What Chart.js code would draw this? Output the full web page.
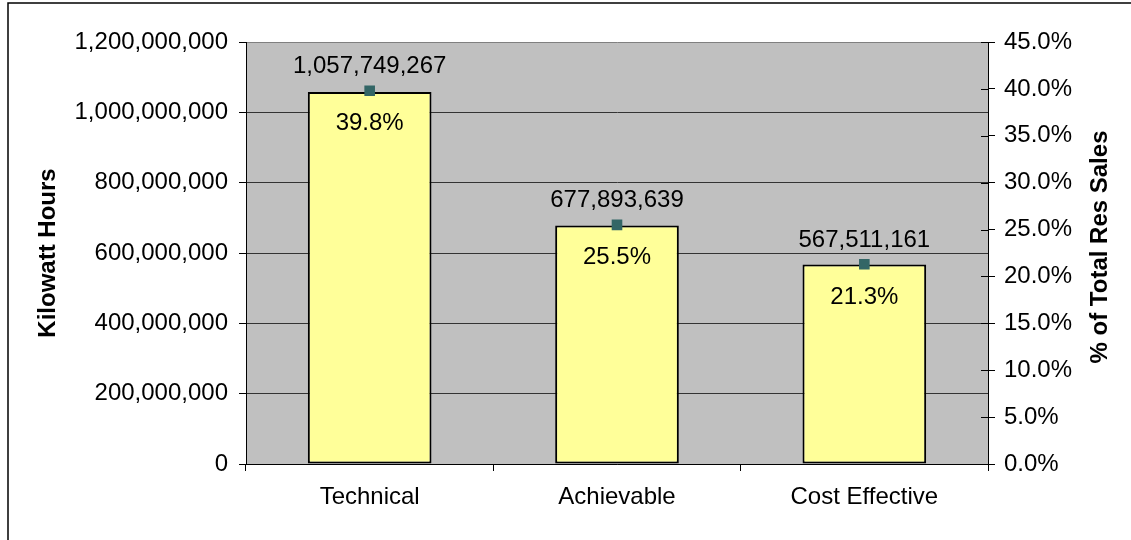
<!DOCTYPE html>
<html>
<head>
<meta charset="utf-8">
<script src="https://cdn.jsdelivr.net/npm/chart.js@4"></script>
<style>
  html, body { margin: 0; padding: 0; background: #ffffff; }
  #wrap { width: 1131px; height: 540px; position: relative; }
</style>
</head>
<body>
<div id="wrap"><canvas id="chart" width="1131" height="540"></canvas></div>
<script>
// Chart values
const categories = ['Technical', 'Achievable', 'Cost Effective'];
const kwhValues = [1057749267, 677893639, 567511161];
const pctValues = [39.8, 25.5, 21.3];

// Axis ranges
const kwhMax = 1200000000;
const kwhStep = 200000000;
const pctMax = 45;
const pctStep = 5;

const fontFamily = '"Liberation Sans", Arial, sans-serif';
const fontSize = 24;

// Grey plot background plus the outer frame of the chart
const backgroundPlugin = {
    id: 'background',
    beforeDraw(chart) {
        const { ctx, chartArea } = chart;
        ctx.save();
        ctx.fillStyle = '#C0C0C0';
        ctx.fillRect(chartArea.left, chartArea.top, chartArea.right - chartArea.left, chartArea.bottom - chartArea.top);
        // frame (only top and left edges fall inside the picture)
        ctx.strokeStyle = '#000000';
        ctx.lineWidth = 1.5;
        ctx.beginPath();
        ctx.moveTo(8, 540);
        ctx.lineTo(8, 3);
        ctx.lineTo(1131, 3);
        ctx.stroke();
        ctx.restore();
    }
};

// Labels above and below the markers, axis titles and inward ticks on the right axis
const labelsPlugin = {
    id: 'labels',
    afterDraw(chart) {
        const { ctx, chartArea } = chart;
        const meta = chart.getDatasetMeta(1);
        ctx.save();
        ctx.fillStyle = '#000000';
        ctx.textAlign = 'center';
        ctx.textBaseline = 'middle';
        ctx.font = fontSize + 'px ' + fontFamily;
        meta.data.forEach((pt, i) => {
            ctx.fillText(kwhValues[i].toLocaleString('en-US'), pt.x, pt.y - 24);
            ctx.fillText(pctValues[i].toFixed(1) + '%', pt.x, pt.y + 33);
        });

        // axis titles
        ctx.font = 'bold ' + fontSize + 'px ' + fontFamily;
        const midY = (chartArea.top + chartArea.bottom) / 2;
        ctx.translate(48, midY);
        ctx.rotate(-Math.PI / 2);
        ctx.fillText('Kilowatt Hours', 0, 0);
        ctx.setTransform(1, 0, 0, 1, 0, 0);
        ctx.translate(1100, midY - 6);
        ctx.rotate(-Math.PI / 2);
        ctx.fillText('% of Total Res Sales', 0, 0);
        ctx.setTransform(1, 0, 0, 1, 0, 0);

        // right axis ticks cross the axis line
        const y1 = chart.scales.y1;
        ctx.strokeStyle = '#000000';
        ctx.lineWidth = 1;
        ctx.beginPath();
        y1.ticks.forEach(t => {
            const py = Math.round(y1.getPixelForValue(t.value)) + 0.5;
            ctx.moveTo(chartArea.right - 7, py);
            ctx.lineTo(chartArea.right, py);
        });
        ctx.stroke();
        ctx.restore();
    }
};

new Chart(document.getElementById('chart').getContext('2d'), {
    type: 'bar',
    data: {
        labels: categories,
        datasets: [
            {
                type: 'bar',
                label: 'Kilowatt Hours',
                data: kwhValues,
                yAxisID: 'y',
                backgroundColor: '#FFFF99',
                borderColor: '#000000',
                borderWidth: 2,
                borderSkipped: false,
                barPercentage: 0.5,
                categoryPercentage: 1.0,
                order: 2
            },
            {
                type: 'line',
                label: '% of Total Res Sales',
                data: pctValues,
                yAxisID: 'y1',
                showLine: false,
                pointStyle: 'rect',
                pointRadius: 7.5,
                pointBackgroundColor: '#336666',
                pointBorderColor: '#336666',
                pointBorderWidth: 0,
                order: 1
            }
        ]
    },
    options: {
        responsive: false,
        animation: false,
        layout: { padding: { top: 42, left: 0, right: 0, bottom: 0 } },
        plugins: {
            legend: { display: false },
            tooltip: { enabled: false }
        },
        scales: {
            x: {
                offset: true,
                grid: {
                    offset: true,
                    drawOnChartArea: false,
                    color: '#000000',
                    tickLength: 7
                },
                border: { display: true, color: '#000000', width: 1 },
                ticks: {
                    color: '#000000',
                    padding: 12,
                    maxRotation: 0,
                    font: { family: fontFamily, size: fontSize }
                },
                afterFit(scale) { scale.height = 76; }
            },
            y: {
                position: 'left',
                min: 0,
                max: kwhMax,
                grid: {
                    color: ctx => (ctx.tick && ctx.tick.value === kwhMax) ? '#808080' : '#333333',
                    lineWidth: 1,
                    tickLength: 7,
                    tickColor: '#000000'
                },
                border: { display: true, color: '#000000', width: 1 },
                ticks: {
                    stepSize: kwhStep,
                    color: '#000000',
                    padding: 11,
                    font: { family: fontFamily, size: fontSize },
                    callback: v => v.toLocaleString('en-US')
                },
                afterFit(scale) { scale.width = 246; }
            },
            y1: {
                position: 'right',
                min: 0,
                max: pctMax,
                grid: {
                    drawOnChartArea: false,
                    color: '#000000',
                    tickLength: 7
                },
                border: { display: true, color: '#000000', width: 1 },
                ticks: {
                    stepSize: pctStep,
                    color: '#000000',
                    padding: 9,
                    font: { family: fontFamily, size: fontSize },
                    callback: v => v.toFixed(1) + '%'
                },
                afterFit(scale) { scale.width = 143; }
            }
        }
    },
    plugins: [backgroundPlugin, labelsPlugin]
});
</script>
</body>
</html>
